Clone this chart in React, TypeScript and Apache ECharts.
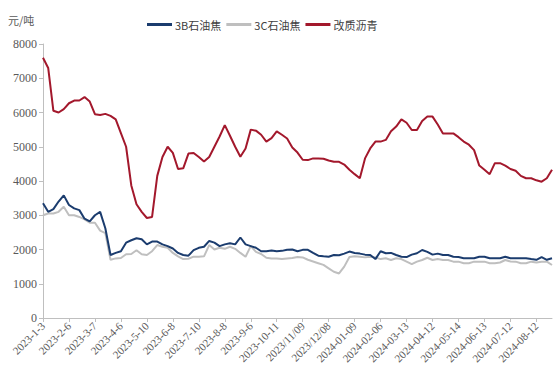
import React, { useEffect, useRef } from "react";
import * as echarts from "echarts";

const tickLabels = [
  "2023-1-3", "2023-2-6", "2023-3-7", "2023-4-6", "2023-5-10", "2023-6-8",
  "2023-7-10", "2023-8-8", "2023-9-6", "2023-10-11", "2023/11/09", "2023/12/08",
  "2024-01-09", "2024-02-06", "2024-03-13", "2024-04-12", "2024-05-14",
  "2024-06-13", "2024-07-12", "2024-08-12",
];

const seriesNames = ["3B石油焦", "3C石油焦", "改质沥青"];

const petcoke3B = [
  3350, 3100, 3180, 3400, 3580, 3300, 3200, 3150, 2900, 2820,
  3000, 3100, 2620, 1840, 1900, 1950, 2200, 2270, 2330, 2300,
  2150, 2230, 2230, 2150, 2100, 2030, 1900, 1840, 1820, 1980,
  2050, 2080, 2250, 2200, 2100, 2150, 2180, 2150, 2350, 2150,
  2100, 2050, 1950, 1950, 1970, 1950, 1960, 1990, 2000, 1950,
  1990, 1990, 1900, 1820, 1800, 1790, 1840, 1830, 1880, 1940,
  1900, 1880, 1850, 1840, 1720, 1950, 1890, 1900, 1840, 1790,
  1780, 1850, 1890, 1985, 1930, 1850, 1880, 1840, 1840, 1790,
  1780, 1745, 1745, 1745, 1790, 1790, 1745, 1745, 1745, 1790,
  1745, 1745, 1745, 1745, 1720, 1700, 1780, 1700, 1745,
];

const petcoke3C = [
  3000, 3050, 3050, 3100, 3250, 3000, 3000, 2950, 2880, 2780,
  2780, 2550, 2480, 1700, 1740, 1750, 1860, 1870, 1980, 1860,
  1840, 1950, 2130, 2080, 2050, 1900, 1800, 1720, 1730, 1790,
  1790, 1800, 2130, 2000, 2050, 2020, 2080, 2020, 1900, 1790,
  2100, 1930, 1870, 1760, 1740, 1740, 1720, 1740, 1750, 1780,
  1770, 1700, 1650, 1600, 1550, 1450, 1350, 1300, 1500, 1780,
  1800, 1790, 1770, 1790, 1770, 1720, 1745, 1693, 1745, 1720,
  1645, 1570, 1645, 1693, 1760, 1693, 1720, 1693, 1693, 1645,
  1645, 1600, 1600, 1645, 1645, 1645, 1597, 1600, 1620, 1693,
  1650, 1645, 1597, 1597, 1645, 1620, 1645, 1645, 1547,
];

const pitch = [
  7600, 7300, 6050, 6000, 6100, 6270, 6350, 6350, 6450, 6320,
  5950, 5930, 5960, 5900, 5800, 5400, 5000, 3870, 3320, 3100,
  2920, 2950, 4150, 4700, 5000, 4820, 4350, 4370, 4800, 4820,
  4700, 4570, 4700, 5000, 5300, 5630, 5320, 5000, 4710, 4950,
  5500, 5470, 5350, 5150, 5250, 5450, 5350, 5240, 4980, 4830,
  4620, 4610, 4660, 4660, 4650, 4600, 4560, 4560, 4480, 4330,
  4200, 4080, 4660, 4950, 5150, 5150, 5200, 5450, 5590, 5800,
  5700, 5490, 5490, 5750, 5880, 5880, 5650, 5390, 5390, 5390,
  5280, 5150, 5060, 4900, 4450, 4330, 4200, 4520, 4520, 4450,
  4350, 4300, 4150, 4080, 4080, 4020, 3980, 4080, 4330,
];

const PER_LABEL = 5;
const categories = pitch.map((_, i) =>
  i % PER_LABEL === 0 && tickLabels[i / PER_LABEL]
    ? tickLabels[i / PER_LABEL]
    : `${tickLabels[Math.floor(i / PER_LABEL)]}#${i % PER_LABEL}`
);

const colors = ["#1b3c6e", "#bfbfbf", "#a3182c"];

export default function App() {
  const ref = useRef<HTMLDivElement>(null);
  useEffect(() => {
    if (!ref.current) return;
    const chart = echarts.init(ref.current, undefined, { renderer: "svg" });
    const numFont = "serif";
    chart.setOption({
      animation: false,
      backgroundColor: "#ffffff",
      color: colors,
      grid: { left: 43, right: 7, top: 44, bottom: 62, containLabel: false },
      legend: {
        data: seriesNames,
        left: 142,
        top: 14,
        icon: "rect",
        itemWidth: 25,
        itemHeight: 3,
        itemGap: 5,
        textStyle: {
          fontSize: 11,
          color: "#404040",
          fontFamily: "Noto Sans CJK SC",
          padding: [0, 0, 0, -2],
        },
      },
      graphic: [
        {
          type: "text",
          left: 8,
          top: 14,
          style: {
            text: "元/吨",
            fontSize: 11,
            fill: "#595959",
            fontFamily: "Noto Sans CJK SC",
          },
        },
      ],
      xAxis: {
        type: "category",
        data: categories,
        boundaryGap: false,
        axisLine: { show: true, lineStyle: { color: "#bfbfbf", width: 1 } },
        axisTick: {
          show: true,
          interval: PER_LABEL - 1,
          length: 4,
          lineStyle: { color: "#bfbfbf" },
        },
        axisLabel: {
          interval: PER_LABEL - 1,
          rotate: 45,
          fontSize: 11,
          color: "#595959",
          fontFamily: numFont,
          margin: 6,
        },
        splitLine: { show: false },
      },
      yAxis: {
        type: "value",
        min: 0,
        max: 8000,
        interval: 1000,
        axisLine: { show: true, lineStyle: { color: "#bfbfbf", width: 1 } },
        axisTick: { show: true, length: 4, lineStyle: { color: "#bfbfbf" } },
        axisLabel: {
          fontSize: 12,
          color: "#595959",
          fontFamily: numFont,
          margin: 6,
          formatter: (v: number) => String(v),
        },
        splitLine: { show: false },
      },
      series: [
        {
          name: seriesNames[0],
          type: "line",
          data: petcoke3B,
          showSymbol: false,
          lineStyle: { width: 2, color: colors[0] },
          z: 3,
        },
        {
          name: seriesNames[1],
          type: "line",
          data: petcoke3C,
          showSymbol: false,
          lineStyle: { width: 2, color: colors[1] },
          z: 2,
        },
        {
          name: seriesNames[2],
          type: "line",
          data: pitch,
          showSymbol: false,
          lineStyle: { width: 2, color: colors[2] },
          z: 4,
        },
      ],
    });
    return () => chart.dispose();
  }, []);
  return (
    <div
      ref={ref}
      style={{ position: "fixed", left: 0, top: 0, width: 559, height: 380 }}
    />
  );
}
